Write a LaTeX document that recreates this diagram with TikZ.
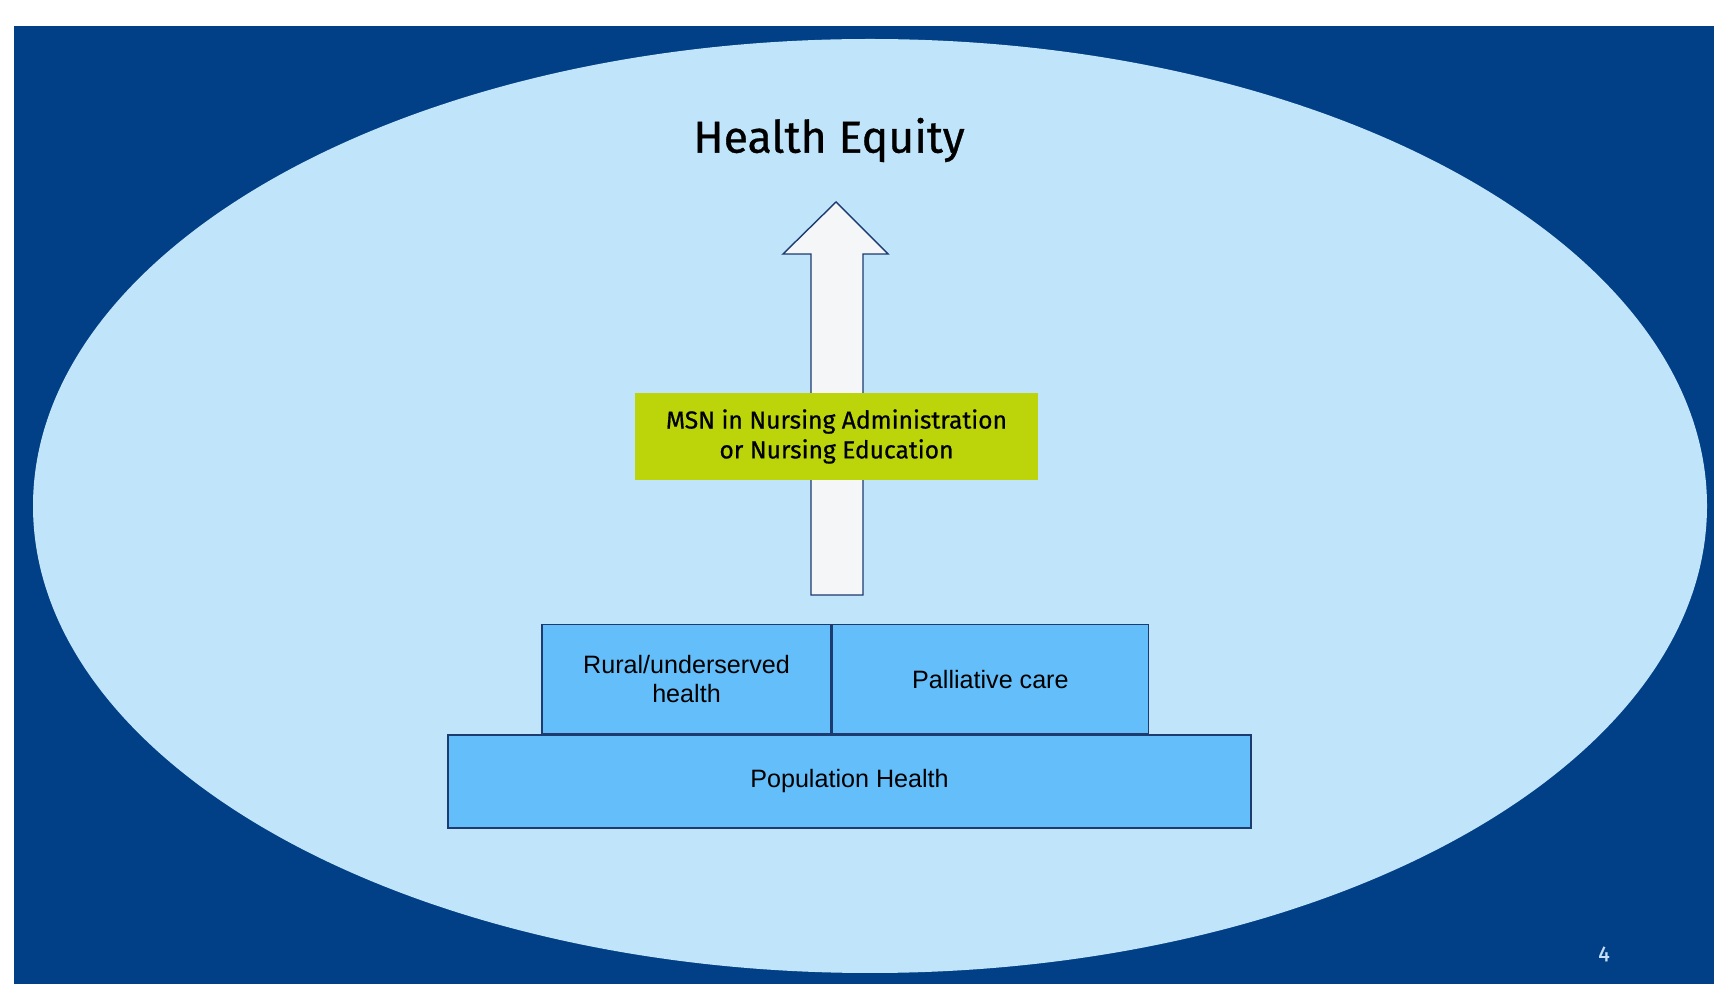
\documentclass[tikz,border=0pt]{standalone}
\usepackage{fontspec}
\usepackage{tikz}
\usetikzlibrary{positioning,calc}
\newfontfamily\fira{Fira Sans}[FakeBold=0.7]
\newfontfamily\arialish{Liberation Sans}
\definecolor{slideblue}{HTML}{013F86}
\definecolor{ovalblue}{HTML}{C0E4FA}
\definecolor{boxblue}{HTML}{63BEFA}
\definecolor{boxline}{HTML}{1D3B6E}
\definecolor{msngreen}{HTML}{BCD50A}
\definecolor{arrowfill}{HTML}{F4F6F8}
\definecolor{pagenum}{HTML}{C5DDF5}
\tikzset{
  tier/.style={draw=boxline,line width=0.4pt,fill=boxblue,align=center,
              inner sep=0pt,font=\arialish\fontsize{7.15}{8.25}\selectfont},
  degree/.style={fill=msngreen,align=center,inner sep=0pt,
              minimum width=4.03cm,minimum height=0.87cm,
              font=\fira\fontsize{7}{8.5}\selectfont},
  uparrow/.style={draw=boxline,line width=0.4pt,fill=arrowfill,line join=miter},
}

\begin{document}
\begin{tikzpicture}
  \useasboundingbox (0,0) rectangle (17.14,9.84);
  % slide background and the big oval
  \fill[slideblue] (0.14,0) rectangle (17.14,9.58);
  \fill[ovalblue] (8.70,4.78) ellipse [x radius=8.37cm,y radius=4.67cm];
  \node[font=\fira\fontsize{12.7}{14}\selectfont] (equity) at (8.29,8.44) {Health Equity};
  % block arrow pointing up to the goal
  \draw[uparrow] (8.11,3.89) -- (8.11,7.30) -- (7.83,7.30) -- (8.36,7.82)
        -- (8.88,7.30) -- (8.63,7.30) -- (8.63,3.89) -- cycle;
  \node[degree] (msn) at (8.365,5.475) {MSN in Nursing Administration\\or Nursing Education};
  % the base tiers
  \node[tier,minimum width=8.03cm,minimum height=0.93cm] (pop) at (8.495,2.025) {\raisebox{-0.6pt}{Population Health}};
  \node[tier,minimum width=2.89cm,minimum height=1.09cm,anchor=south west,
        above right=0pt and 0.94cm of pop.north west] (rural) {Rural/underserved\\health};
  \node[tier,minimum width=3.16cm,minimum height=1.09cm,right=0pt of rural] (palliative) {Palliative care};
  \node[font=\fira\fontsize{6.2}{7}\selectfont,text=pagenum] (page) at (16.04,0.30) {4};
\end{tikzpicture}
\end{document}
